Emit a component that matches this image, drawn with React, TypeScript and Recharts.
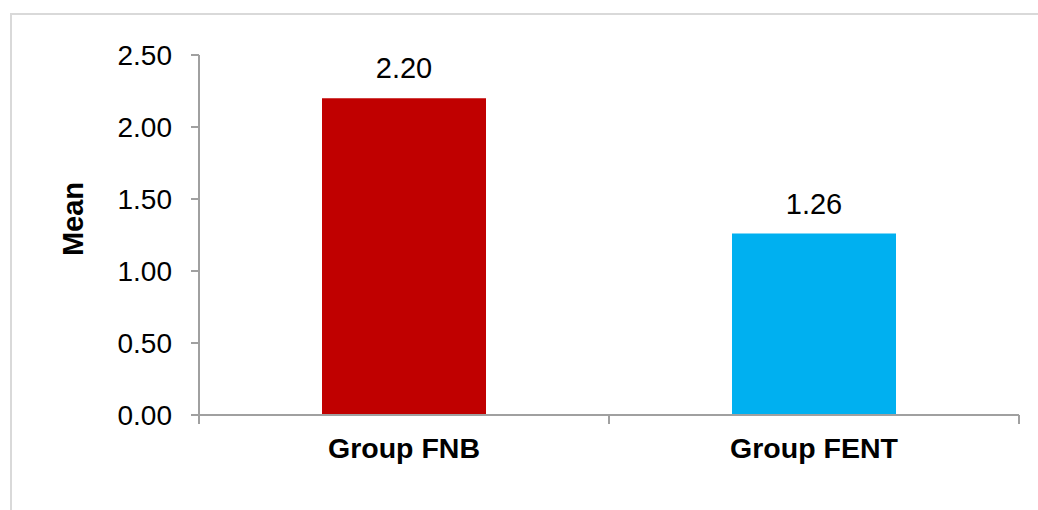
import React from 'react';
import { BarChart, Bar, XAxis, YAxis, LabelList, Cell, Label } from 'recharts';

const categories = ['Group FNB', 'Group FENT'];
const means = [2.2, 1.26];
const barColors = ['#C00000', '#00B0F0'];
const yTicks = [0, 0.5, 1, 1.5, 2, 2.5];
const yAxisTitle = 'Mean';

const data = categories.map((c, i) => ({ name: c, mean: means[i] }));

const FONT = '"Liberation Sans", Arial, Helvetica, sans-serif';
const AXIS = '#a0a0a0';
const X_TICK_SIZE = 9;
const X_TICK_MARGIN = 14;

function MeanLabel(props: any) {
  const vb = props.viewBox || { x: 99, y: 55, width: 100, height: 360 };
  const x = vb.x - 16;
  const y = vb.y + vb.height / 2 - 16;
  return (
    <text
      x={x}
      y={y}
      transform={`rotate(-90, ${x}, ${y})`}
      textAnchor="middle"
      fontFamily={FONT}
      fontWeight="bold"
      fontSize={29}
      fill="#000"
    >
      {yAxisTitle}
    </text>
  );
}

function CategoryTick(props: any) {
  const { x, y, payload, index, visibleTicksCount } = props;
  const half = payload && typeof payload.offset === 'number' ? payload.offset : 0;
  const axisY = y - X_TICK_SIZE - X_TICK_MARGIN;
  const lines: number[] = [];
  if (half > 0) {
    lines.push(x - half);
    if (index === visibleTicksCount - 1) lines.push(x + half);
  }
  return (
    <g>
      {lines.map((lx, i) => (
        <line
          key={i}
          x1={lx}
          x2={lx}
          y1={axisY}
          y2={axisY + X_TICK_SIZE}
          stroke={AXIS}
          strokeWidth={2}
        />
      ))}
      <text
        x={x}
        y={y}
        dy="0.71em"
        textAnchor="middle"
        fontFamily={FONT}
        fontWeight="bold"
        fontSize={28.5}
        fill="#000"
      >
        {payload.value}
      </text>
    </g>
  );
}

export default function App() {
  return (
    <div
      style={{
        position: 'absolute',
        left: 0,
        top: 0,
        width: 1038,
        height: 510,
        overflow: 'hidden',
        background: '#fff',
      }}
    >
      <div
        style={{
          position: 'absolute',
          left: 10,
          top: 13,
          width: 1100,
          height: 600,
          border: '2px solid #d9d9d9',
          boxSizing: 'border-box',
        }}
      />
      <div style={{ position: 'absolute', left: 0, top: 0 }}>
        <BarChart
          width={1038}
          height={510}
          data={data}
          margin={{ top: 55, right: 19, left: 99, bottom: 45 }}
          barCategoryGap="30%"
        >
          <XAxis
            dataKey="name"
            interval={0}
            tickLine={false}
            axisLine={{ stroke: AXIS, strokeWidth: 2 }}
            tickSize={X_TICK_SIZE}
            tickMargin={X_TICK_MARGIN}
            height={50}
            tick={<CategoryTick />}
          />
          <YAxis
            domain={[0, 2.5]}
            ticks={yTicks}
            width={100}
            tickFormatter={(v: number) => v.toFixed(2)}
            tickSize={8}
            tickMargin={19}
            axisLine={{ stroke: AXIS, strokeWidth: 2 }}
            tickLine={{ stroke: AXIS, strokeWidth: 2 }}
            tick={{ fontSize: 28, fill: '#000', fontFamily: FONT }}
            allowDataOverflow
          >
            <Label content={MeanLabel} />
          </YAxis>
          <Bar dataKey="mean" isAnimationActive={false}>
            {data.map((d, i) => (
              <Cell key={d.name} fill={barColors[i]} />
            ))}
            <LabelList
              dataKey="mean"
              position="top"
              offset={20}
              formatter={(v: any) => Number(v).toFixed(2)}
              fill="#000"
              fontSize={29}
              fontFamily={FONT}
            />
          </Bar>
        </BarChart>
      </div>
    </div>
  );
}
